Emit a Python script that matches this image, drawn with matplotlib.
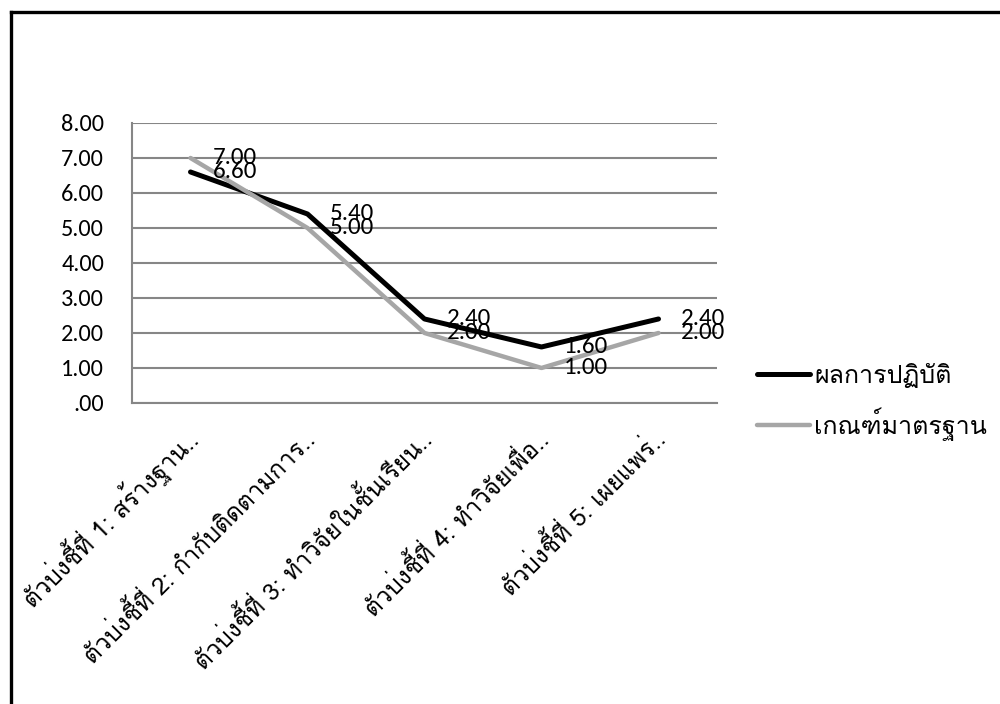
import matplotlib
matplotlib.use("Agg")
import matplotlib.pyplot as plt
from matplotlib.lines import Line2D
from matplotlib.transforms import ScaledTranslation

# indicator labels (truncated as in the report) and the two series
categories = [
    "ตัวบ่งชี้ที่ 1: สร้างฐาน..",
    "ตัวบ่งชี้ที่ 2: กำกับติดตามการ..",
    "ตัวบ่งชี้ที่ 3: ทำวิจัยในชั้นเรียน..",
    "ตัวบ่งชี้ที่ 4: ทำวิจัยเพื่อ..",
    "ตัวบ่งชี้ที่ 5: เผยแพร่..",
]
performance = [6.60, 5.40, 2.40, 1.60, 2.40]   # ผลการปฏิบัติ
standard = [7.00, 5.00, 2.00, 1.00, 2.00]      # เกณฑ์มาตรฐาน
series_names = ["ผลการปฏิบัติ", "เกณฑ์มาตรฐาน"]
y_ticks = [0, 1, 2, 3, 4, 5, 6, 7, 8]
y_ticklabels = [".00", "1.00", "2.00", "3.00", "4.00", "5.00", "6.00", "7.00", "8.00"]

BLACK = "#000000"
LGRAY = "#a6a6a6"
GRID = "#868686"
NUM_FONT = ["Carlito", "Loma", "DejaVu Sans"]
THAI_FONT = ["Loma", "DejaVu Sans"]

plt.rcParams["font.family"] = NUM_FONT

fig = plt.figure(figsize=(10, 7.04), dpi=100)
fig.patch.set_facecolor("white")

# outer chart frame: only the left and top edges fall inside the page
x0, y0 = 0.0105, 0.9830
fig.add_artist(Line2D([x0, x0], [0.001, y0], transform=fig.transFigure,
                      color=BLACK, lw=2.4, solid_capstyle="projecting"))
fig.add_artist(Line2D([x0, 0.998], [y0, y0], transform=fig.transFigure,
                      color=BLACK, lw=2.4, solid_capstyle="projecting"))

ax = fig.add_axes([0.132, 0.4276, 0.585, 0.3977])
x = list(range(len(categories)))

ax.plot(x, performance, color=BLACK, lw=3.6, solid_capstyle="round",
        solid_joinstyle="round", zorder=4, label=series_names[0])
ax.plot(x, standard, color=LGRAY, lw=3.2, solid_capstyle="round",
        solid_joinstyle="round", zorder=5, label=series_names[1])

for series in (performance, standard):
    for xi, v in zip(x, series):
        ax.annotate(f"{v:.2f}", (xi, v), xytext=(16, 0), textcoords="offset points",
                    ha="left", va="center", fontsize=18, color=BLACK, zorder=6)

ax.set_xlim(-0.5, len(categories) - 0.5)
ax.set_ylim(0, 8)
ax.set_yticks(y_ticks)
ax.set_yticklabels(y_ticklabels, fontsize=17.5)
ax.tick_params(axis="y", length=0, pad=20)
ax.set_xticks([])
ax.yaxis.grid(True, color=GRID, lw=1.5)
ax.set_axisbelow(True)
for side in ("top", "right"):
    ax.spines[side].set_visible(False)
for side in ("left", "bottom"):
    ax.spines[side].set_color(GRID)
    ax.spines[side].set_linewidth(1.5)

# rotated category labels, right end placed just below each category
shift = ScaledTranslation(3 / 100, -32 / 100, fig.dpi_scale_trans)
for xi, lab in zip(x, categories):
    ax.text(xi, 0, lab, transform=ax.get_xaxis_transform() + shift,
            rotation=45, rotation_mode="anchor", ha="right", va="center",
            fontsize=17.5, family=THAI_FONT)

fig.legend(loc="center left", bbox_to_anchor=(0.757, 0.4290), frameon=False,
           prop={"family": THAI_FONT, "size": 18},
           handlelength=2.1, handletextpad=0.2, labelspacing=0.8,
           borderpad=0, borderaxespad=0)

fig.savefig("out.png", dpi=100)
